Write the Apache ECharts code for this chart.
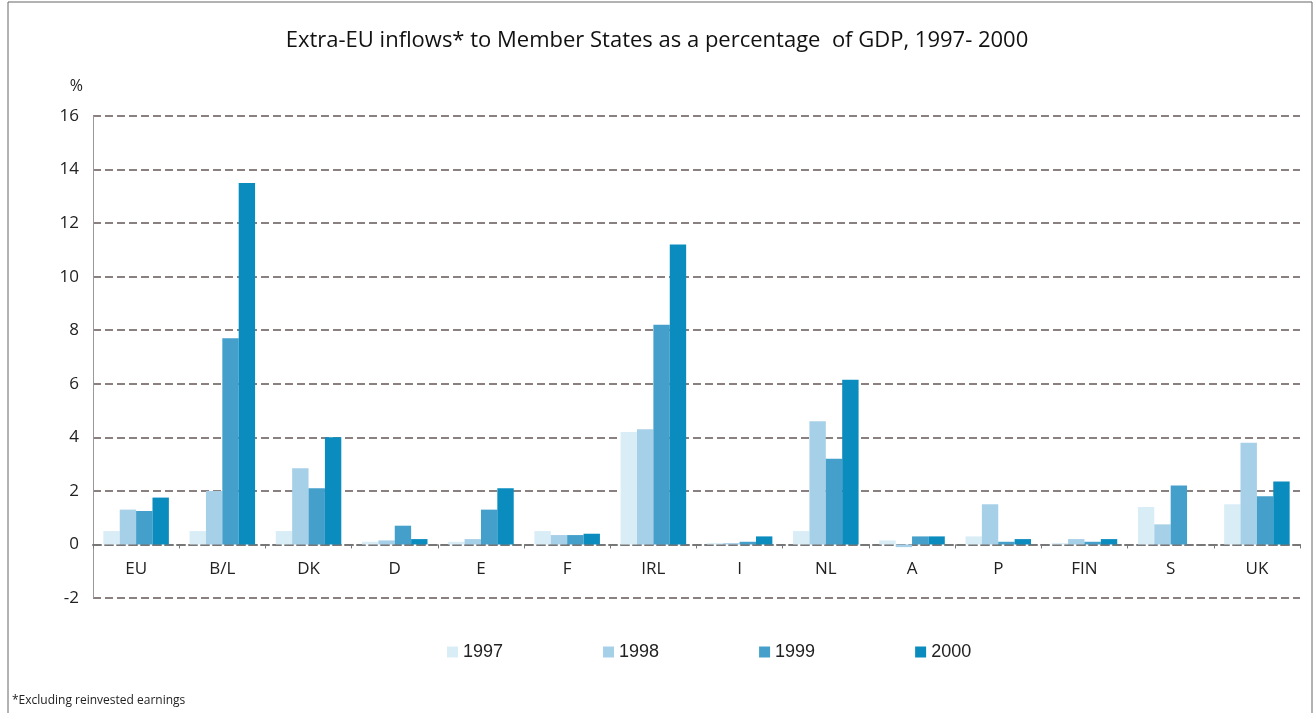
<!DOCTYPE html>
<html><head><meta charset="utf-8">
<script src="https://cdn.jsdelivr.net/npm/echarts@6/dist/echarts.min.js"></script>
<style>html,body{margin:0;padding:0;background:#fff}#c{width:1314px;height:713px}</style>
</head><body><div id="c"></div>
<script>
const categories = ['EU','B/L','DK','D','E','F','IRL','I','NL','A','P','FIN','S','UK'];
const years = ['1997','1998','1999','2000'];
const v1997 = [0.5, 0.5, 0.5, 0.1, 0.1, 0.5, 4.2, 0.05, 0.5, 0.15, 0.3, 0.05, 1.4, 1.5];
const v1998 = [1.3, 2.0, 2.85, 0.15, 0.2, 0.35, 4.3, 0.05, 4.6, -0.1, 1.5, 0.2, 0.75, 3.8];
const v1999 = [1.25, 7.7, 2.1, 0.7, 1.3, 0.35, 8.2, 0.1, 3.2, 0.3, 0.1, 0.1, 2.2, 1.8];
const v2000 = [1.75, 13.5, 4.0, 0.2, 2.1, 0.4, 11.2, 0.3, 6.15, 0.3, 0.2, 0.2, null, 2.35];
const yTicks = [-2,0,2,4,6,8,10,12,14,16];
const colors = ['#d9edf7','#a6cfe8','#449fcb','#0a8cbf'];
const allVals = [v1997, v1998, v1999, v2000];

const W = 1314, H = 713, gTop = 116, gBottom = 115;
const plotH = H - gTop - gBottom;
const yMin = -2, yMax = 16;
const zeroOffset = -plotH * (0 - yMin) / (yMax - yMin);

const chart = echarts.init(document.getElementById('c'));
const font = '"Liberation Sans Narrow","Liberation Sans",Arial,sans-serif';
chart.setOption({
  animation:false,
  title:{text:'Extra-EU inflows* to Member States as a percentage  of GDP, 1997- 2000',left:'center',top:25,
    textStyle:{fontFamily:'"Open Sans",sans-serif',fontWeight:'normal',fontSize:22,color:'#111'}},
  legend:{top:638,left:442,itemWidth:11,itemHeight:11,itemGap:100,icon:'rect',
    textStyle:{fontFamily:font,fontSize:18,color:'#222'},data:years},
  grid:{left:93,right:14,top:gTop,bottom:gBottom},
  xAxis:{type:'category',data:categories,offset:zeroOffset,
    axisLine:{onZero:false,lineStyle:{color:'#777',type:'dashed',width:2}},
    axisTick:{show:true,length:4,lineStyle:{color:'#777'}},
    axisLabel:{fontFamily:'"Open Sans",sans-serif',fontSize:17,color:'#222',margin:16}},
  yAxis:{type:'value',min:yMin,max:yMax,interval:2,name:'%',nameLocation:'end',nameGap:22,
    nameTextStyle:{fontFamily:'"Open Sans",sans-serif',fontSize:16,color:'#222',align:'right',padding:[0,10,0,0]},
    axisLine:{show:true,lineStyle:{color:'#999',width:1}},
    axisTick:{show:false},
    axisLabel:{fontFamily:'"Open Sans",sans-serif',fontSize:17,color:'#222',margin:14,
      formatter:function(v){return yTicks.indexOf(v)>=0?String(v):'';}},
    splitLine:{show:true,lineStyle:{color:'#8a8080',type:'dashed',width:2}}},
  series: years.map((y,i)=>({name:y,type:'bar',data:allVals[i],barGap:'0%',barCategoryGap:'24%',
    itemStyle:{color:colors[i]}})),
  graphic:[
    {type:'rect',shape:{x:8,y:2,width:1304,height:720},style:{fill:'none',stroke:'#666',lineWidth:1},silent:true},
    {type:'text',left:12,top:695,style:{text:'*Excluding reinvested earnings',fontFamily:'"Open Sans",sans-serif',fontSize:12,fill:'#222'}}
  ]
});
</script></body></html>
